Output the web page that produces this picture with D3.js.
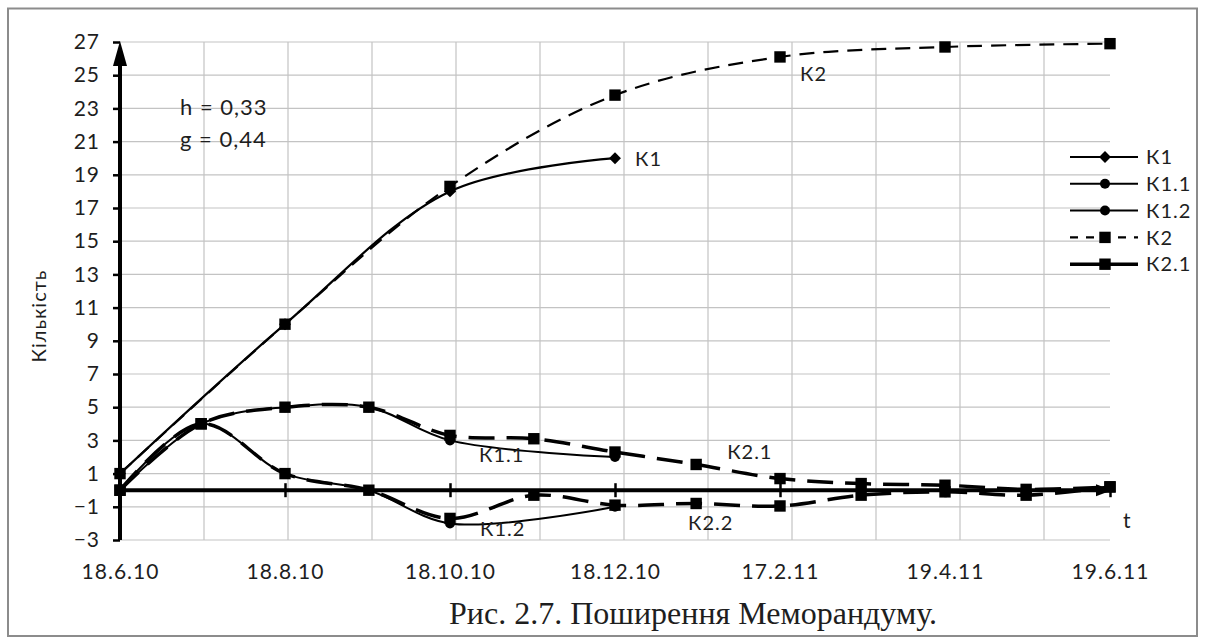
<!DOCTYPE html>
<html>
<head>
<meta charset="utf-8">
<script src="https://cdn.jsdelivr.net/npm/d3@7"></script>
<style>
  body { margin: 0; background: #fff; }
  text { font-family: Lato, "Open Sans", sans-serif; fill: #1e1e1e; }
</style>
</head>
<body>
<svg id="chart" width="1205" height="644"></svg>
<script>
// Observation dates (monthly)
const dates = ["2010-06-18", "2010-07-18", "2010-08-18", "2010-09-18", "2010-10-18", "2010-11-18",
               "2010-12-18", "2011-01-17", "2011-02-17", "2011-03-19", "2011-04-19", "2011-05-19", "2011-06-19"];
// Labelled dates on the time axis
const tickDates = ["2010-06-18", "2010-08-18", "2010-10-18", "2010-12-18", "2011-02-17", "2011-04-19", "2011-06-19"];
const yTicks = [-3, -1, 1, 3, 5, 7, 9, 11, 13, 15, 17, 19, 21, 23, 25, 27];

// Series values per date (null = no observation)
const k1  = [1, null, 10, null, 18,   null, 20,   null, null, null, null, null, null];
const k11 = [0, 4,    5,  5,    3,    null, 2,    null, null, null, null, null, null];
const k12 = [0, 4,    1,  0,   -2,    null, -1,   null, null, null, null, null, null];
const k2  = [1, null, 10, null, 18.3, null, 23.8, null, 26.1, null, 26.7, null, 26.9];
const k21 = [0, 4,    5,  5,    3.3,  3.1,  2.3,  1.55, 0.7,  0.4,  0.3,  0.05, 0.2];
const k22 = [0, 4,    1,  0,   -1.7, -0.3, -0.9, -0.8, -0.95, -0.3, -0.1, -0.3, 0.2];

const params = ["h = 0,33", "g = 0,44"];
const legendNames = ["К1", "К1.1", "К1.2", "К2", "К2.1"];

const parse = d3.timeParse("%Y-%m-%d");
const fmt = d => `${d.getDate()}.${d.getMonth() + 1}.${String(d.getFullYear()).slice(2)}`;
const days = dates.map(parse);

const svg = d3.select("#chart");
const pLeft = 120, pRight = 1110, pTop = 42, pBottom = 540;

const x = d3.scaleTime().domain([days[0], days[days.length - 1]]).range([pLeft, pRight]);
const y = d3.scaleLinear().domain([-3, 27]).range([pBottom, pTop]);
// month grid of the plot area (12 columns)
const gx = d3.scaleLinear().domain([0, 12]).range([pLeft, pLeft + 12 * 84]);

// outer frame
svg.append("rect").attr("x", 8).attr("y", 8.5).attr("width", 1189).attr("height", 627.5)
  .attr("fill", "none").attr("stroke", "#8c8c8c").attr("stroke-width", 2);

// grid
const grid = svg.append("g").attr("stroke", "#c3c3c3").attr("stroke-width", 1.2);
grid.selectAll("line.h").data(yTicks).join("line").attr("class", "h")
  .attr("x1", pLeft).attr("x2", pRight).attr("y1", d => y(d)).attr("y2", d => y(d));
grid.selectAll("line.v").data(d3.range(1, 12)).join("line").attr("class", "v")
  .attr("x1", d => gx(d)).attr("x2", d => gx(d)).attr("y1", pTop).attr("y2", pBottom);

// y axis: ticks + labels
const yAxis = svg.append("g").attr("transform", `translate(${pLeft},0)`)
  .call(d3.axisLeft(y).tickValues(yTicks).tickSize(7).tickPadding(13));
yAxis.select(".domain").remove();
yAxis.selectAll(".tick line").attr("stroke", "#000").attr("stroke-width", 2.5);
yAxis.selectAll("text").style("font-size", "21px").style("letter-spacing", "1px").attr("fill", "#1e1e1e");

// y axis arrow
svg.append("line").attr("x1", pLeft).attr("x2", pLeft).attr("y1", pBottom).attr("y2", pTop + 20)
  .attr("stroke", "#000").attr("stroke-width", 4);
svg.append("path").attr("d", d3.line()([[pLeft, pTop - 1], [pLeft - 7, pTop + 24], [pLeft + 7, pTop + 24]]) + "Z")
  .attr("fill", "#000");

// x axis on zero line: crossing ticks
const xAxis = svg.append("g").attr("transform", `translate(0,${y(0)})`)
  .call(d3.axisBottom(x).tickValues(tickDates.map(parse)).tickSize(7).tickFormat(""));
xAxis.select(".domain").remove();
xAxis.selectAll(".tick line").attr("y1", -7).attr("y2", 7).attr("stroke", "#000").attr("stroke-width", 2.5);
svg.append("line").attr("x1", pLeft).attr("x2", pRight - 12).attr("y1", y(0)).attr("y2", y(0))
  .attr("stroke", "#000").attr("stroke-width", 4);
svg.append("path").attr("d", d3.line()([[pRight + 2, y(0)], [pRight - 14, y(0) - 6], [pRight - 14, y(0) + 6]]) + "Z")
  .attr("fill", "#000");

// date labels along the bottom
const xLab = svg.append("g").attr("transform", `translate(0,${pBottom})`)
  .call(d3.axisBottom(x).tickValues(tickDates.map(parse)).tickSize(0).tickPadding(24).tickFormat(fmt));
xLab.select(".domain").remove();
xLab.selectAll("text").style("font-size", "21px").style("letter-spacing", "1px").attr("fill", "#1e1e1e");

// axis titles
svg.append("text").attr("transform", "translate(46,316) rotate(-90)").attr("text-anchor", "middle")
  .style("font-size", "20px").style("letter-spacing", "1px").text("Кількість");
svg.append("text").attr("x", 1123).attr("y", 528).style("font-size", "21px").text("t");

// parameters
svg.selectAll("text.param").data(params).join("text").attr("class", "param")
  .attr("x", 180).attr("y", (d, i) => 115 + i * 32).style("font-size", "22px").style("letter-spacing", "1px")
  .text(d => d);

// series
const toPts = arr => arr.map((v, i) => [days[i], v]).filter(p => p[1] !== null);
const line = d3.line().x(p => x(p[0])).y(p => y(p[1])).curve(d3.curveCatmullRom.alpha(0.5));

const series = [
  { vals: k2,  width: 2.2, dash: "15,9",  marker: "square" },
  { vals: k1,  width: 2.2, dash: null,    marker: "diamond" },
  { vals: k21, width: 3.5, dash: "26,12", marker: "square" },
  { vals: k22, width: 3.5, dash: "26,12", marker: "square" },
  { vals: k11, width: 2,   dash: null,    marker: "circle" },
  { vals: k12, width: 2,   dash: null,    marker: "circle" }
];

const linesG = svg.append("g");
series.forEach(s => {
  linesG.append("path").attr("d", line(toPts(s.vals))).attr("fill", "none")
    .attr("stroke", "#000").attr("stroke-width", s.width)
    .attr("stroke-dasharray", s.dash).attr("stroke-linejoin", "round");
});

const symbolOf = {
  square: d3.symbol(d3.symbolSquare, 130),
  diamond: d3.symbol(d3.symbolDiamond2, 90),
  circle: d3.symbol(d3.symbolCircle, 78)
};
const markG = svg.append("g");
series.forEach(s => {
  markG.selectAll(null).data(toPts(s.vals)).join("path")
    .attr("transform", p => `translate(${x(p[0])},${y(p[1])})`)
    .attr("d", symbolOf[s.marker]()).attr("fill", "#000");
});

// series labels
const seriesLabels = [
  { t: "К1",   d: "2010-12-18", v: 20,   dx: 20, dy: 8 },
  { t: "К2",   d: "2011-02-17", v: 26.1, dx: 20, dy: 24 },
  { t: "К1.1", d: "2010-10-18", v: 3,    dx: 29, dy: 22 },
  { t: "К1.2", d: "2010-10-18", v: -2,   dx: 30, dy: 13 },
  { t: "К2.1", d: "2011-01-17", v: 1.55, dx: 31, dy: -5 },
  { t: "К2.2", d: "2010-12-18", v: -0.9, dx: 73, dy: 25 }
];
svg.selectAll("text.slab").data(seriesLabels).join("text").attr("class", "slab")
  .attr("x", d => x(parse(d.d)) + d.dx).attr("y", d => y(d.v) + d.dy)
  .style("font-size", "20px").style("letter-spacing", "1px").text(d => d.t);

// legend
const legendStyle = [
  { width: 2,   dash: null,  marker: "diamond" },
  { width: 2,   dash: null,  marker: "circle" },
  { width: 2,   dash: null,  marker: "circle" },
  { width: 2.2, dash: "8,8", marker: "square" },
  { width: 3.5, dash: null,  marker: "square" }
];
const lg = svg.append("g").attr("transform", "translate(1070,157)");
legendNames.forEach((name, i) => {
  const row = lg.append("g").attr("transform", `translate(0,${i * 26.8})`);
  const st = legendStyle[i];
  row.append("line").attr("x1", 0).attr("x2", 68).attr("stroke", "#000")
    .attr("stroke-width", st.width).attr("stroke-dasharray", st.dash);
  row.append("path").attr("transform", "translate(35,0)").attr("d", symbolOf[st.marker]()).attr("fill", "#000");
  row.append("text").attr("x", 76).attr("dy", "0.36em").style("font-size", "20px").style("letter-spacing", "1px").text(name);
});

// caption
svg.append("text").attr("x", 693).attr("y", 624).attr("text-anchor", "middle")
  .style("font-family", "'Liberation Serif', 'Times New Roman', serif").style("font-size", "32px").attr("fill", "#111")
  .text("Рис. 2.7. Поширення Меморандуму.");
</script>
</body>
</html>
